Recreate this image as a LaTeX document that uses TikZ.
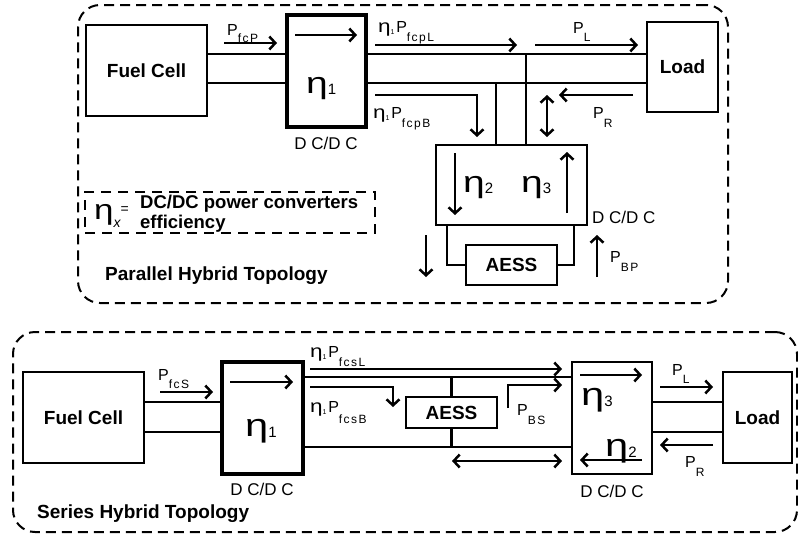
\documentclass[tikz,border=0pt]{standalone}
\usepackage{fontspec}
\setmainfont{Liberation Sans}
\usetikzlibrary{arrows.meta}
\newcommand\sbs[2][-9pt]{\raisebox{#1}{\fontsize{12}{12}\selectfont\addfontfeature{LetterSpace=12}#2}}
\newcommand\pw[2][-9pt]{{\fontsize{16}{16}\selectfont P}\sbs[#1]{#2}}
\newcommand\ep{\scalebox{1.25}[1]{\fontsize{18}{18}\selectfont η}\raisebox{-2pt}{\fontsize{7}{7}\selectfont 1}\,}
\newcommand\bigeta[2][30]{\scalebox{1.3}[1]{\fontsize{#1}{#1}\selectfont η}\raisebox{-1pt}{\fontsize{15}{15}\selectfont #2}}
\begin{document}
\begin{tikzpicture}[x=1pt,y=-1pt,
  blk/.style={draw, line width=2.8pt, inner sep=0pt, outer sep=0pt, font=\fontsize{19}{19}\selectfont\bfseries},
  bus/.style={line width=2.5pt},
  arr/.style={line width=2.5pt, -{Straight Barb[length=6pt,width=13pt]}},
  darr/.style={line width=2.5pt, {Straight Barb[length=6pt,width=13pt]}-{Straight Barb[length=6pt,width=13pt]}},
  frame/.style={draw, line width=2pt, dash pattern=on 10pt off 6pt, rounded corners=22pt, inner sep=0pt},
  legbox/.style={draw, line width=1.5pt, dash pattern=on 10pt off 7pt, inner sep=0pt},
  txt/.style={inner sep=0pt, anchor=base west},
  dcl/.style={inner sep=0pt, font=\fontsize{17}{17}\selectfont},
  lfnt/.style={inner sep=0pt, anchor=base west, font=\fontsize{19}{19}\selectfont\bfseries}
]
\useasboundingbox (0,0) rectangle (798,536);

% frames
\node[frame, minimum width=650pt, minimum height=298pt] (ftop) at (403,154) {};
\node[frame, minimum width=784pt, minimum height=200pt] (fbot) at (405,432) {};
\node[legbox, minimum width=290pt, minimum height=41pt] (leg) at (230,212.5) {};

% ---------- parallel topology ----------
\node[blk, minimum width=121pt, minimum height=91pt] (fcP) at (146.5,70.5) {Fuel Cell};
\node[blk, line width=3.4pt, minimum width=79pt, minimum height=112pt] (e1P) at (326.5,71) {};
\node[blk, minimum width=71pt, minimum height=90pt] (ldP) at (682.5,67) {Load};
\node[blk, minimum width=151pt, minimum height=80pt] (dcP) at (511.5,185) {};
\node[blk, minimum width=91pt, minimum height=40pt] (esP) at (511.5,265) {AESS};

\coordinate (ya) at (0,54);
\coordinate (yb) at (0,83);
\coordinate (xa) at (526,0);
\coordinate (xb) at (496,0);
\coordinate (xc) at (447,0);
\coordinate (xd) at (574,0);
\draw[bus] (fcP.east |- ya) -- (e1P.west |- ya);
\draw[bus] (fcP.east |- yb) -- (e1P.west |- yb);
\draw[bus] (e1P.east |- ya) -- (ldP.west |- ya);
\draw[bus] (e1P.east |- yb) -- (ldP.west |- yb);
\draw[bus] (xa |- ya) -- (xa |- dcP.north);
\draw[bus] (xb |- yb) -- (xb |- dcP.north);
\draw[bus] (xc |- dcP.south) |- (esP.west);
\draw[bus] (xd |- dcP.south) |- (esP.east);

\draw[arr] (224,43) -- (277,43);
\draw[arr] (295,35) -- (357,35);
\draw[arr] (375,45) -- (517,45);
\draw[arr] (535,45) -- (638,45);
\draw[arr] (375,95) -- (477,95) -- (477,137);
\draw[darr] (547,95) -- (547,137);
\draw[arr] (633,95) -- (559,95);
\draw[arr] (455,153) -- (455,215);
\draw[arr] (567,213) -- (567,152);
\draw[arr] (426,235) -- (426,277);
\draw[arr] (597,277) -- (597,235);

\node[txt] (tpfcp) at (227,35) {\pw[-7pt]{fcP}};
\node[txt] (te1P) at (306,93) {\bigeta{1}};
\node[dcl, anchor=base] (tdc1) at (326,149) {D C/D C};
\node[txt] (tfcpL) at (378,32) {\ep\pw{fcpL}};
\node[txt] (tplP) at (573,33) {\pw[-8pt]{L}};
\node[txt] (tfcpB) at (373,118) {\ep\pw{fcpB}};
\node[txt] (tprP) at (593,118) {\pw[-9pt]{R}};
\node[txt] (te2P) at (463,192) {\bigeta{2}};
\node[txt] (te3P) at (521,192) {\bigeta{3}};
\node[dcl, anchor=base west] (tdc2) at (592,223) {D C/D C};
\node[txt] (tpbp) at (610,262) {\pw{BP}};

\node[txt] (tetax) at (94,219) {\scalebox{1.25}[1]{\fontsize{28}{28}\selectfont η}\raisebox{-8pt}{\fontsize{14}{14}\selectfont\itshape x}\raisebox{6pt}{\fontsize{14}{14}\selectfont =}};
\node[lfnt, font=\fontsize{18.5}{18.5}\selectfont\bfseries] (tleg1) at (140,208) {DC/DC power converters};
\node[lfnt, font=\fontsize{18.5}{18.5}\selectfont\bfseries] (tleg2) at (140,228) {efficiency};
\node[lfnt] (tpar) at (105,280) {Parallel Hybrid Topology};

% ---------- series topology ----------
\node[blk, minimum width=121pt, minimum height=91pt] (fcS) at (83.5,417.5) {Fuel Cell};
\node[blk, line width=3.4pt, minimum width=81pt, minimum height=112pt] (e1S) at (262.5,418) {};
\node[blk, minimum width=91pt, minimum height=31pt] (esS) at (451.5,412.5) {AESS};
\node[blk, minimum width=80pt, minimum height=112pt] (dcS) at (612,418) {};
\node[blk, minimum width=69pt, minimum height=91pt] (ldS) at (757.5,417.5) {Load};

\coordinate (yc) at (0,402);
\coordinate (yd) at (0,432);
\coordinate (ye) at (0,377);
\coordinate (yf) at (0,447);
\draw[bus] (fcS.east |- yc) -- (e1S.west |- yc);
\draw[bus] (fcS.east |- yd) -- (e1S.west |- yd);
\draw[bus] (e1S.east |- ye) -- (dcS.west |- ye);
\draw[bus] (e1S.east |- yf) -- (dcS.west |- yf);
\draw[bus] (dcS.east |- yc) -- (ldS.west |- yc);
\draw[bus] (dcS.east |- yd) -- (ldS.west |- yd);
\draw[bus] (esS.north |- ye) -- (esS.north);
\draw[bus] (esS.south) -- (esS.south |- yf);

\draw[arr] (160,392) -- (213,392);
\draw[arr] (230,382) -- (293,382);
\draw[arr] (310,369) -- (562,369);
\draw[arr] (310,387) -- (393,387) -- (393,407);
\draw[arr] (508,408) -- (508,385) -- (562,385);
\draw[darr] (452,461) -- (562,461);
\draw[arr] (580,375) -- (642,375);
\draw[arr] (642,460) -- (580,460);
\draw[arr] (660,387) -- (713,387);
\draw[arr] (713,445) -- (660,445);

\node[txt] (tpfcs) at (158,380) {\pw[-8pt]{fcS}};
\node[txt] (te1S) at (245,436) {\bigeta[32]{1}};
\node[dcl, anchor=base] (tdc3) at (262,495) {D C/D C};
\node[txt] (tfcsL) at (310,357) {\ep\pw{fcsL}};
\node[txt] (tfcsB) at (310,412) {\ep\pw[-11pt]{fcsB}};
\node[txt] (tpbs) at (517,415) {\pw[-9pt]{BS}};
\node[txt] (te3S) at (581,405) {\bigeta[32]{3}};
\node[txt] (te2S) at (605,456) {\bigeta[32]{2}};
\node[dcl, anchor=base] (tdc4) at (612,497) {D C/D C};
\node[txt] (tplS) at (672,375) {\pw[-8pt]{L}};
\node[txt] (tprS) at (685,467) {\pw[-9pt]{R}};
\node[lfnt] (tser) at (37,518) {Series Hybrid Topology};
\end{tikzpicture}
\end{document}
